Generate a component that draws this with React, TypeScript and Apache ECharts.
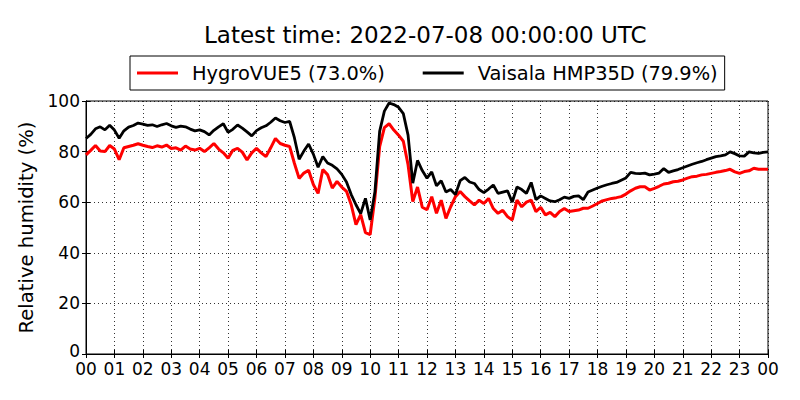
import React, { useEffect, useRef } from "react";
import * as echarts from "echarts";

const TITLE = "Latest time: 2022-07-08 00:00:00 UTC";
const Y_NAME = "Relative humidity (%)";
const SERIES_NAMES = ["HygroVUE5 (73.0%)", "Vaisala HMP35D (79.9%)"];
const STEP_HOURS = 1 / 6; // 10-minute samples

// HygroVUE5 relative humidity, every 10 minutes from 00:00 to 24:00
const hygroVue5 = [
  78.7, 80.5, 82.4, 80.2, 80.0, 82.4,
  81.0, 76.8, 81.5, 82.0, 82.5, 83.1,
  82.5, 82.0, 81.6, 82.3, 81.8, 82.6,
  81.2, 81.5, 80.6, 82.2, 81.0, 80.6,
  81.3, 80.0, 81.5, 83.2, 81.0, 79.5,
  77.4, 80.5, 81.3, 79.8, 76.7, 79.5,
  81.3, 79.5, 78.0, 81.5, 85.2, 83.2,
  82.5, 82.0, 75.4, 69.4, 71.5, 72.6,
  67.0, 63.5, 72.9, 70.9, 65.6, 68.2,
  66.0, 64.3, 59.0, 51.1, 55.1, 48.0,
  47.2, 61.7, 82.0, 89.5, 91.0, 88.5,
  86.5, 84.1, 74.8, 60.3, 66.0, 58.0,
  57.0, 62.2, 55.6, 60.8, 53.6, 58.2,
  62.2, 64.2, 62.2, 60.5, 58.9, 60.8,
  59.5, 61.5, 57.5, 55.6, 56.8, 54.3,
  53.0, 60.8, 58.2, 60.0, 60.8, 56.3,
  58.0, 55.0, 56.0, 54.3, 56.3, 57.5,
  56.3, 56.6, 56.9, 57.6, 57.6, 58.5,
  59.5, 60.5, 61.0, 61.5, 61.8, 62.2,
  63.2, 64.5, 65.5, 66.1, 66.1, 64.8,
  65.5, 66.3, 67.2, 67.5, 68.1, 68.3,
  68.8, 69.5, 70.1, 70.3, 70.8, 71.0,
  71.4, 71.8, 72.1, 72.5, 73.0, 72.0,
  71.4, 72.1, 72.4, 73.4, 73.0, 73.0,
  73.0,
];

// Vaisala HMP35D relative humidity, every 10 minutes from 00:00 to 24:00
const vaisalaHmp35d = [
  85.2, 86.8, 89.0, 89.8, 88.6, 90.4,
  88.5, 85.3, 88.2, 89.7, 90.3, 91.3,
  90.9, 90.4, 90.6, 89.9, 90.6, 91.1,
  90.2, 89.6, 90.1, 89.8, 88.9, 88.2,
  88.6, 87.9, 86.6, 88.4, 89.8, 91.0,
  87.6, 88.8, 90.5, 89.3, 87.8, 86.2,
  88.3, 89.4, 90.2, 91.6, 93.3, 92.2,
  91.5, 91.9, 85.5, 77.0, 80.2, 83.0,
  79.0, 73.8, 78.0, 75.5, 74.6, 73.2,
  71.0, 68.0, 63.0, 59.0, 55.5, 61.5,
  53.0, 64.0, 88.0, 96.0, 99.2, 98.6,
  97.5, 95.0, 86.5, 67.5, 76.5, 72.5,
  69.5, 72.0, 66.5, 68.5, 64.0, 65.0,
  63.0, 68.5, 69.8, 68.0, 67.4, 65.0,
  63.8, 65.2, 66.8, 63.5, 64.0, 64.5,
  60.0, 66.0, 65.0, 63.5, 67.8, 61.0,
  62.5, 61.5, 60.5, 60.2, 61.0, 62.0,
  61.5, 62.3, 62.5, 61.0, 64.0, 64.8,
  65.6, 66.3, 66.9, 67.4, 67.8, 68.7,
  69.6, 71.8, 71.4, 71.3, 71.5, 70.8,
  71.1, 71.5, 73.3, 71.8, 72.4, 72.9,
  73.6, 74.3, 75.0, 75.6, 76.1, 76.8,
  77.4, 78.0, 78.3, 78.7, 79.9, 79.2,
  78.3, 78.2, 79.9, 79.5, 79.3, 79.7,
  79.9,
];

const FONT = "'DejaVu Sans', sans-serif";

function toPairs(values: number[]) {
  return values.map((v, i) => [i * STEP_HOURS, v]);
}

const hourLabel = (v: number) => {
  const h = Math.round(v) % 24;
  return h < 10 ? "0" + h : String(h);
};

const yLabel = (v: number) => (v === 0 ? "{z|0}" : String(v));

export default function App() {
  const ref = useRef<HTMLDivElement>(null);

  useEffect(() => {
    if (!ref.current) return;
    const chart = echarts.init(ref.current, null, { renderer: "svg" });

    const gridLine = { show: true, lineStyle: { color: "#000", type: [1, 3] as any, width: 0.8 } };
    const tickIn = { show: true, inside: true, length: 4, lineStyle: { color: "#000", width: 1 } };

    chart.setOption({
      animation: false,
      backgroundColor: "#fff",
      textStyle: { fontFamily: FONT },
      title: {
        text: TITLE,
        left: 204,
        top: 23,
        padding: 0,
        textStyle: { fontFamily: FONT, fontSize: 23, fontWeight: "normal", color: "#000" },
      },
      legend: {
        left: 130,
        top: 56,
        padding: [7, 7],
        borderColor: "#000",
        borderWidth: 1,
        borderRadius: 0,
        itemGap: 38,
        itemWidth: 41,
        itemHeight: 3,
        icon: "rect",
        textStyle: {
          fontFamily: FONT,
          fontSize: 19.4,
          color: "#000",
          padding: [0, 0, 0, 9],
          lineHeight: 20,
        },
        data: SERIES_NAMES,
      },
      grid: {
        left: 86,
        right: 32,
        top: 101,
        bottom: 46,
        show: true,
        borderColor: "#000",
        borderWidth: 1,
        backgroundColor: "transparent",
      },
      xAxis: [
        {
          type: "value",
          min: 0,
          max: 24,
          interval: 1,
          axisLine: { show: true, lineStyle: { color: "#000", width: 1 } },
          axisTick: tickIn,
          splitLine: gridLine,
          axisLabel: {
            formatter: hourLabel,
            fontFamily: FONT,
            fontSize: 17,
            lineHeight: 13,
            color: "#000",
            margin: 8,
          },
        },
        {
          type: "value",
          position: "top",
          min: 0,
          max: 24,
          interval: 1,
          axisLine: { show: true, lineStyle: { color: "#000", width: 1 } },
          axisTick: tickIn,
          splitLine: { show: false },
          axisLabel: { show: false },
        },
      ],
      yAxis: [
        {
          type: "value",
          min: 0,
          max: 100,
          interval: 20,
          name: Y_NAME,
          nameLocation: "middle",
          nameGap: 44,
          nameTextStyle: { fontFamily: FONT, fontSize: 19.6, color: "#000" },
          axisLine: { show: true, lineStyle: { color: "#000", width: 1 } },
          axisTick: tickIn,
          splitLine: gridLine,
          axisLabel: {
            formatter: yLabel,
            fontFamily: FONT,
            fontSize: 17,
            lineHeight: 13,
            color: "#000",
            margin: 6,
            rich: {
              z: { fontFamily: FONT, fontSize: 17, lineHeight: 13, color: "#000", padding: [0, 0, 6, 0] },
            },
          },
        },
        {
          type: "value",
          position: "right",
          min: 0,
          max: 100,
          interval: 20,
          axisLine: { show: true, lineStyle: { color: "#000", width: 1 } },
          axisTick: tickIn,
          splitLine: { show: false },
          axisLabel: { show: false },
        },
      ],
      series: [
        {
          name: SERIES_NAMES[0],
          type: "line",
          data: toPairs(hygroVue5),
          showSymbol: false,
          symbol: "none",
          itemStyle: { color: "#ff0000" },
          lineStyle: { color: "#ff0000", width: 3 },
          clip: true,
        },
        {
          name: SERIES_NAMES[1],
          type: "line",
          data: toPairs(vaisalaHmp35d),
          showSymbol: false,
          symbol: "none",
          itemStyle: { color: "#000000" },
          lineStyle: { color: "#000000", width: 2.8 },
          clip: true,
        },
      ],
    });

    return () => chart.dispose();
  }, []);

  return (
    <div
      ref={ref}
      style={{ position: "fixed", left: 0, top: 0, width: 800, height: 400, background: "#fff" }}
    />
  );
}
